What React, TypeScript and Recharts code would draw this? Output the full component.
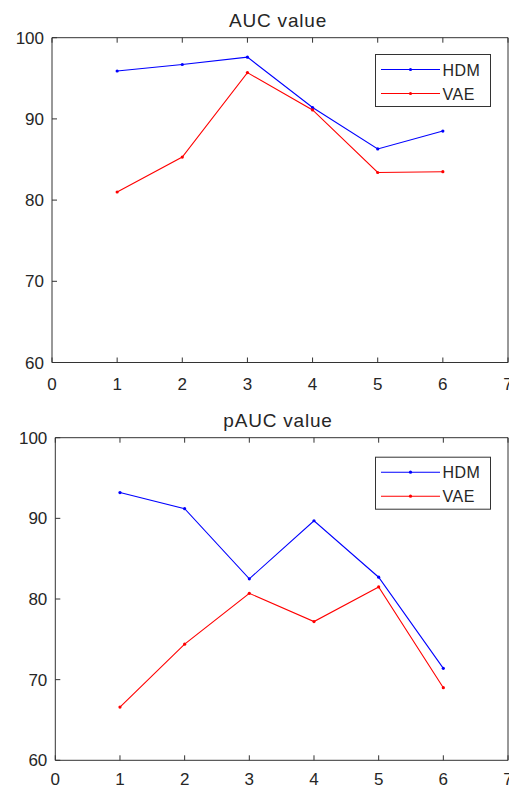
import React from 'react';
import { LineChart, Line, XAxis, YAxis } from 'recharts';

const runs = [1, 2, 3, 4, 5, 6];
const xTicks = [0, 1, 2, 3, 4, 5, 6, 7];
const yTicks = [60, 70, 80, 90, 100];
const aucHDM = [95.9, 96.7, 97.6, 91.4, 86.3, 88.5];
const aucVAE = [81.0, 85.3, 95.7, 91.1, 83.4, 83.5];
const paucHDM = [93.2, 91.2, 82.5, 89.7, 82.7, 71.4];
const paucVAE = [66.6, 74.4, 80.7, 77.2, 81.5, 69.0];
const seriesNames = ['HDM', 'VAE'];
const titles = ['AUC value', 'pAUC value'];

const FONT = '"Liberation Sans", Arial, Helvetica, sans-serif';
const AXIS = '#333333';
const TXT = '#262626';
const BLUE = '#0000ff';
const RED = '#ff0000';

const makeBottomTick = (offset: number) => (props: any) => {
  const { x, y, payload } = props;
  return (
    <g>
      <line x1={x} y1={y} x2={x} y2={y - 5} stroke={AXIS} strokeWidth={1} />
      <text x={x} y={y + offset} textAnchor="middle" fontSize={17} fontFamily={FONT} fill={TXT}>
        {payload.value}
      </text>
    </g>
  );
};

const TopTick = (props: any) => {
  const { x, y } = props;
  return <line x1={x} y1={y} x2={x} y2={y + 5} stroke={AXIS} strokeWidth={1} />;
};

const LeftTick = (props: any) => {
  const { x, y, payload } = props;
  return (
    <g>
      <line x1={x} y1={y} x2={x + 5} y2={y} stroke={AXIS} strokeWidth={1} />
      <text x={x - 8} y={y} dy="0.36em" textAnchor="end" fontSize={17} fontFamily={FONT} fill={TXT}>
        {payload.value}
      </text>
    </g>
  );
};

const RightTick = (props: any) => {
  const { x, y } = props;
  return <line x1={x} y1={y} x2={x - 5} y2={y} stroke={AXIS} strokeWidth={1} />;
};

type PanelProps = {
  title: string;
  hdm: number[];
  vae: number[];
  top: number;
  height: number;
  left: number;
  plotTop: number;
  plotBottom: number;
  legendTop: number;
  labelOffset: number;
};

const Panel = ({ title, hdm, vae, top, height, left, plotTop, plotBottom, legendTop, labelOffset }: PanelProps) => {
  const data = runs.map((r, i) => ({ x: r, hdm: hdm[i], vae: vae[i] }));
  const BottomTick = makeBottomTick(labelOffset);
  return (
    <div style={{ position: 'absolute', left: 0, top, width: 509, height }}>
      <LineChart
        width={509}
        height={height}
        data={data}
        margin={{ top: plotTop - 1, right: 0, bottom: height - plotBottom - 1, left: left - 1 }}
      >
        <XAxis
          dataKey="x"
          type="number"
          domain={[0, 7]}
          ticks={xTicks}
          interval={0}
          height={1}
          tickSize={0}
          tickMargin={0}
          tickLine={false}
          axisLine={{ stroke: AXIS, strokeWidth: 1 }}
          tick={BottomTick}
        />
        <XAxis
          xAxisId="top"
          orientation="top"
          dataKey="x"
          type="number"
          domain={[0, 7]}
          ticks={xTicks}
          interval={0}
          height={1}
          tickSize={0}
          tickMargin={0}
          tickLine={false}
          axisLine={{ stroke: AXIS, strokeWidth: 1 }}
          tick={TopTick}
        />
        <YAxis
          type="number"
          domain={[60, 100]}
          ticks={yTicks}
          interval={0}
          width={1}
          tickSize={0}
          tickMargin={0}
          tickLine={false}
          axisLine={{ stroke: AXIS, strokeWidth: 1 }}
          tick={LeftTick}
        />
        <YAxis
          yAxisId="right"
          orientation="right"
          type="number"
          domain={[60, 100]}
          ticks={yTicks}
          interval={0}
          width={1}
          tickSize={0}
          tickMargin={0}
          tickLine={false}
          axisLine={{ stroke: AXIS, strokeWidth: 1 }}
          tick={RightTick}
        />
        <Line
          dataKey="hdm"
          name={seriesNames[0]}
          stroke={BLUE}
          strokeWidth={1.1}
          dot={{ r: 1.6, fill: BLUE, stroke: 'none' }}
          isAnimationActive={false}
        />
        <Line
          dataKey="vae"
          name={seriesNames[1]}
          stroke={RED}
          strokeWidth={1.1}
          dot={{ r: 1.6, fill: RED, stroke: 'none' }}
          isAnimationActive={false}
        />
      </LineChart>
      <svg
        width={509}
        height={height}
        style={{ position: 'absolute', left: 0, top: 0, pointerEvents: 'none' }}
      >
        <text
          x={278}
          y={26.7}
          textAnchor="middle"
          fontSize={19}
          letterSpacing={0.8}
          fontFamily={FONT}
          fill={TXT}
        >
          {title}
        </text>
        <g transform={`translate(375, ${legendTop})`}>
          <rect x={0.5} y={0.5} width={115} height={52} fill="#ffffff" stroke={AXIS} strokeWidth={1} />
          <line x1={6} y1={15.5} x2={65} y2={15.5} stroke={BLUE} strokeWidth={1.1} />
          <circle cx={35.5} cy={15.5} r={1.6} fill={BLUE} />
          <text x={67.5} y={21.5} fontSize={16} letterSpacing={0.5} fontFamily={FONT} fill={TXT}>
            {seriesNames[0]}
          </text>
          <line x1={6} y1={39.5} x2={65} y2={39.5} stroke={RED} strokeWidth={1.1} />
          <circle cx={35.5} cy={39.5} r={1.6} fill={RED} />
          <text x={67.5} y={45.5} fontSize={16} letterSpacing={0.5} fontFamily={FONT} fill={TXT}>
            {seriesNames[1]}
          </text>
        </g>
      </svg>
    </div>
  );
};

export default function App() {
  return (
    <div style={{ position: 'absolute', left: 0, top: 0, width: 509, height: 787, background: '#ffffff' }}>
      <Panel
        title={titles[0]}
        hdm={aucHDM}
        vae={aucVAE}
        top={0}
        height={400}
        left={52}
        plotTop={37.7}
        plotBottom={362.5}
        legendTop={54}
        labelOffset={27}
      />
      <Panel
        title={titles[1]}
        hdm={paucHDM}
        vae={paucVAE}
        top={400}
        height={387}
        left={55.3}
        plotTop={37.7}
        plotBottom={360.3}
        legendTop={56.7}
        labelOffset={24.5}
      />
    </div>
  );
}
